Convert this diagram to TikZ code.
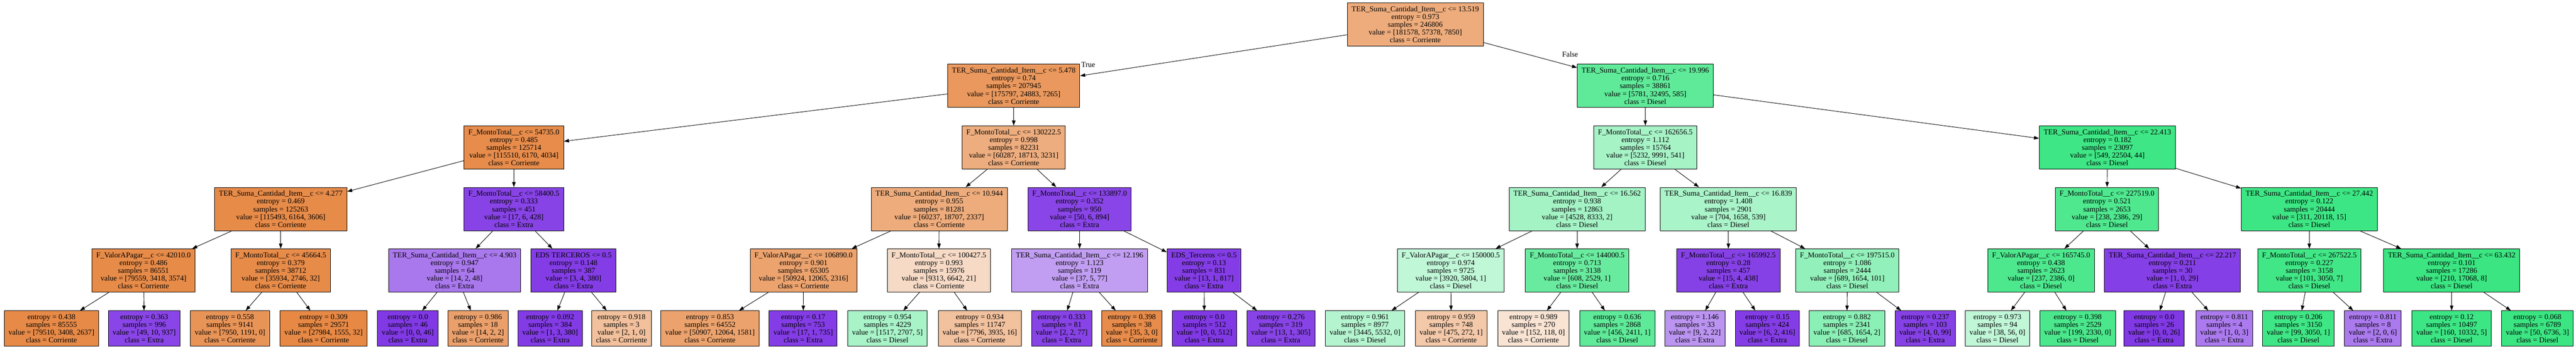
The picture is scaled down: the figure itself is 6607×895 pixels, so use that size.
\documentclass[tikz,border=0pt]{standalone}
\usepackage{fontspec}
\usetikzlibrary{arrows.meta}
\newfontfamily\treefam{Liberation Serif}
\newcommand\treefont{\treefam\fontsize{19.3}{20}\selectfont}
\definecolor{corr}{RGB}{229,129,57}
\definecolor{dies}{RGB}{57,229,129}
\definecolor{extra}{RGB}{129,57,229}
\begin{document}
\begin{tikzpicture}[x=1pt,y=-1pt,
  box/.style={draw=black, line width=1.3pt, inner xsep=11pt, inner ysep=0pt, align=center, font=\treefont},
  inode/.style={box, minimum height=111pt},
  leaf/.style={box, minimum height=91pt},
  edge/.style={line width=1.2pt, -{Triangle[length=13pt,width=9pt]}},
  lbl/.style={font=\treefont, inner sep=0pt}]
\fill[white] (0,0) rectangle (6607,895);
\useasboundingbox (0,0) rectangle (6607,895);
% level 0
\node[inode, fill=corr!66!white] (n0) at (3630,62.5) {TER\_Suma\_Cantidad\_Item\_\_c <= 13.519\\entropy = 0.973\\samples = 246806\\value = [181578, 57378, 7850]\\class = Corriente};
% level 1
\node[inode, fill=corr!82!white] (nL) at (2600,220.5) {TER\_Suma\_Cantidad\_Item\_\_c <= 5.478\\entropy = 0.74\\samples = 207945\\value = [175797, 24883, 7265]\\class = Corriente};
\node[inode, fill=dies!81!white] (nR) at (4220,220.5) {TER\_Suma\_Cantidad\_Item\_\_c <= 19.996\\entropy = 0.716\\samples = 38861\\value = [5781, 32495, 585]\\class = Diesel};
% level 2
\node[inode, fill=corr!91!white] (nLL) at (1318,378.5) {F\_MontoTotal\_\_c <= 54735.0\\entropy = 0.485\\samples = 125714\\value = [115510, 6170, 4034]\\class = Corriente};
\node[inode, fill=corr!65!white] (nLR) at (2600,378.5) {F\_MontoTotal\_\_c <= 130222.5\\entropy = 0.998\\samples = 82231\\value = [60287, 18713, 3231]\\class = Corriente};
\node[inode, fill=dies!45!white] (nRL) at (4220,378.5) {F\_MontoTotal\_\_c <= 162656.5\\entropy = 1.112\\samples = 15764\\value = [5232, 9991, 541]\\class = Diesel};
\node[inode, fill=dies!97!white] (nRR) at (5405,378.5) {TER\_Suma\_Cantidad\_Item\_\_c <= 22.413\\entropy = 0.182\\samples = 23097\\value = [549, 22504, 44]\\class = Diesel};
% level 3
\node[inode, fill=corr!92!white] (nLLL) at (720,536.5) {TER\_Suma\_Cantidad\_Item\_\_c <= 4.277\\entropy = 0.469\\samples = 125263\\value = [115493, 6164, 3606]\\class = Corriente};
\node[inode, fill=extra!95!white] (nLLR) at (1318,536.5) {F\_MontoTotal\_\_c <= 58400.5\\entropy = 0.333\\samples = 451\\value = [17, 6, 428]\\class = Extra};
\node[inode, fill=corr!66!white] (nLRL) at (2409,536.5) {TER\_Suma\_Cantidad\_Item\_\_c <= 10.944\\entropy = 0.955\\samples = 81281\\value = [60237, 18707, 2337]\\class = Corriente};
\node[inode, fill=extra!94!white] (nLRR) at (2769,536.5) {F\_MontoTotal\_\_c <= 133897.0\\entropy = 0.352\\samples = 950\\value = [50, 6, 894]\\class = Extra};
\node[inode, fill=dies!46!white] (nRLL) at (4045,536.5) {TER\_Suma\_Cantidad\_Item\_\_c <= 16.562\\entropy = 0.938\\samples = 12863\\value = [4528, 8333, 2]\\class = Diesel};
\node[inode, fill=dies!43!white] (nRLR) at (4433,536.5) {TER\_Suma\_Cantidad\_Item\_\_c <= 16.839\\entropy = 1.408\\samples = 2901\\value = [704, 1658, 539]\\class = Diesel};
\node[inode, fill=dies!89!white] (nRRL) at (5404,536.5) {F\_MontoTotal\_\_c <= 227519.0\\entropy = 0.521\\samples = 2653\\value = [238, 2386, 29]\\class = Diesel};
\node[inode, fill=dies!98!white] (nRRR) at (5923,536.5) {TER\_Suma\_Cantidad\_Item\_\_c <= 27.442\\entropy = 0.122\\samples = 20444\\value = [311, 20118, 15]\\class = Diesel};
% level 4
\node[inode, fill=corr!92!white] (nLLLL) at (368,694.5) {F\_ValorAPagar\_\_c <= 42010.0\\entropy = 0.486\\samples = 86551\\value = [79559, 3418, 3574]\\class = Corriente};
\node[inode, fill=corr!92!white] (nLLLR) at (720,694.5) {F\_MontoTotal\_\_c <= 45664.5\\entropy = 0.379\\samples = 38712\\value = [35934, 2746, 32]\\class = Corriente};
\node[inode, fill=extra!68!white] (nLLRL) at (1166,694.5) {TER\_Suma\_Cantidad\_Item\_\_c <= 4.903\\entropy = 0.947\\samples = 64\\value = [14, 2, 48]\\class = Extra};
\node[inode, fill=extra!98!white] (nLLRR) at (1471,694.5) {EDS TERCEROS <= 0.5\\entropy = 0.148\\samples = 387\\value = [3, 4, 380]\\class = Extra};
\node[inode, fill=corr!73!white] (nLRLL) at (2061,694.5) {F\_ValorAPagar\_\_c <= 106890.0\\entropy = 0.901\\samples = 65305\\value = [50924, 12065, 2316]\\class = Corriente};
\node[inode, fill=corr!29!white] (nLRLR) at (2408,694.5) {F\_MontoTotal\_\_c <= 100427.5\\entropy = 0.993\\samples = 15976\\value = [9313, 6642, 21]\\class = Corriente};
\node[inode, fill=extra!49!white] (nLRRL) at (2769,694.5) {TER\_Suma\_Cantidad\_Item\_\_c <= 12.196\\entropy = 1.123\\samples = 119\\value = [37, 5, 77]\\class = Extra};
\node[inode, fill=extra!98!white] (nLRRR) at (3088,694.5) {EDS\_Terceros <= 0.5\\entropy = 0.13\\samples = 831\\value = [13, 1, 817]\\class = Extra};
\node[inode, fill=dies!32!white] (nRLLL) at (3721,694.5) {F\_ValorAPagar\_\_c <= 150000.5\\entropy = 0.974\\samples = 9725\\value = [3920, 5804, 1]\\class = Diesel};
\node[inode, fill=dies!76!white] (nRLLR) at (4045,694.5) {F\_MontoTotal\_\_c <= 144000.5\\entropy = 0.713\\samples = 3138\\value = [608, 2529, 1]\\class = Diesel};
\node[inode, fill=extra!96!white] (nRLRL) at (4433,694.5) {F\_MontoTotal\_\_c <= 165992.5\\entropy = 0.28\\samples = 457\\value = [15, 4, 438]\\class = Extra};
\node[inode, fill=dies!55!white] (nRLRR) at (4738,694.5) {F\_MontoTotal\_\_c <= 197515.0\\entropy = 1.086\\samples = 2444\\value = [689, 1654, 101]\\class = Diesel};
\node[inode, fill=dies!90!white] (nRRLL) at (5235,694.5) {F\_ValorAPagar\_\_c <= 165745.0\\entropy = 0.438\\samples = 2623\\value = [237, 2386, 0]\\class = Diesel};
\node[inode, fill=extra!97!white] (nRRLR) at (5572,694.5) {TER\_Suma\_Cantidad\_Item\_\_c <= 22.217\\entropy = 0.211\\samples = 30\\value = [1, 0, 29]\\class = Extra};
\node[inode, fill=dies!96!white] (nRRRL) at (5923,694.5) {F\_MontoTotal\_\_c <= 267522.5\\entropy = 0.227\\samples = 3158\\value = [101, 3050, 7]\\class = Diesel};
\node[inode, fill=dies!99!white] (nRRRR) at (6288,694.5) {TER\_Suma\_Cantidad\_Item\_\_c <= 63.432\\entropy = 0.101\\samples = 17286\\value = [210, 17068, 8]\\class = Diesel};
% leaves
\node[leaf, fill=corr!93!white] (f1) at (132,843.5) {entropy = 0.438\\samples = 85555\\value = [79510, 3408, 2637]\\class = Corriente};
\node[leaf, fill=extra!94!white] (f2) at (370,843.5) {entropy = 0.363\\samples = 996\\value = [49, 10, 937]\\class = Extra};
\node[leaf, fill=corr!85!white] (f3) at (590,843.5) {entropy = 0.558\\samples = 9141\\value = [7950, 1191, 0]\\class = Corriente};
\node[leaf, fill=corr!94!white] (f4) at (830,843.5) {entropy = 0.309\\samples = 29571\\value = [27984, 1555, 32]\\class = Corriente};
\node[leaf, fill=extra] (f5) at (1046,843.5) {entropy = 0.0\\samples = 46\\value = [0, 0, 46]\\class = Extra};
\node[leaf, fill=corr!75!white] (f6) at (1226,843.5) {entropy = 0.986\\samples = 18\\value = [14, 2, 2]\\class = Corriente};
\node[leaf, fill=extra!99!white] (f7) at (1411,843.5) {entropy = 0.092\\samples = 384\\value = [1, 3, 380]\\class = Extra};
\node[leaf, fill=corr!50!white] (f8) at (1594,843.5) {entropy = 0.918\\samples = 3\\value = [2, 1, 0]\\class = Corriente};
\node[leaf, fill=corr!74!white] (f9) at (1821,843.5) {entropy = 0.853\\samples = 64552\\value = [50907, 12064, 1581]\\class = Corriente};
\node[leaf, fill=extra!98!white] (f10) at (2060,843.5) {entropy = 0.17\\samples = 753\\value = [17, 1, 735]\\class = Extra};
\node[leaf, fill=dies!44!white] (f11) at (2276,843.5) {entropy = 0.954\\samples = 4229\\value = [1517, 2707, 5]\\class = Diesel};
\node[leaf, fill=corr!49!white] (f12) at (2513,843.5) {entropy = 0.934\\samples = 11747\\value = [7796, 3935, 16]\\class = Corriente};
\node[leaf, fill=extra!95!white] (f13) at (2723,843.5) {entropy = 0.333\\samples = 81\\value = [2, 2, 77]\\class = Extra};
\node[leaf, fill=corr!91!white] (f14) at (2903,843.5) {entropy = 0.398\\samples = 38\\value = [35, 3, 0]\\class = Corriente};
\node[leaf, fill=extra] (f15) at (3089,843.5) {entropy = 0.0\\samples = 512\\value = [0, 0, 512]\\class = Extra};
\node[leaf, fill=extra!95!white] (f16) at (3285,843.5) {entropy = 0.276\\samples = 319\\value = [13, 1, 305]\\class = Extra};
\node[leaf, fill=dies!38!white] (f17) at (3501,843.5) {entropy = 0.961\\samples = 8977\\value = [3445, 5532, 0]\\class = Diesel};
\node[leaf, fill=corr!43!white] (f18) at (3722,843.5) {entropy = 0.959\\samples = 748\\value = [475, 272, 1]\\class = Corriente};
\node[leaf, fill=corr!22!white] (f19) at (3933,843.5) {entropy = 0.989\\samples = 270\\value = [152, 118, 0]\\class = Corriente};
\node[leaf, fill=dies!81!white] (f20) at (4148,843.5) {entropy = 0.636\\samples = 2868\\value = [456, 2411, 1]\\class = Diesel};
\node[leaf, fill=extra!54!white] (f21) at (4347,843.5) {entropy = 1.146\\samples = 33\\value = [9, 2, 22]\\class = Extra};
\node[leaf, fill=extra!98!white] (f22) at (4533,843.5) {entropy = 0.15\\samples = 424\\value = [6, 2, 416]\\class = Extra};
\node[leaf, fill=dies!59!white] (f23) at (4737,843.5) {entropy = 0.882\\samples = 2341\\value = [685, 1654, 2]\\class = Diesel};
\node[leaf, fill=extra!96!white] (f24) at (4938,843.5) {entropy = 0.237\\samples = 103\\value = [4, 0, 99]\\class = Extra};
\node[leaf, fill=dies!32!white] (f25) at (5123,843.5) {entropy = 0.973\\samples = 94\\value = [38, 56, 0]\\class = Diesel};
\node[leaf, fill=dies!91!white] (f26) at (5329,843.5) {entropy = 0.398\\samples = 2529\\value = [199, 2330, 0]\\class = Diesel};
\node[leaf, fill=extra] (f27) at (5525,843.5) {entropy = 0.0\\samples = 26\\value = [0, 0, 26]\\class = Extra};
\node[leaf, fill=extra!67!white] (f28) at (5705,843.5) {entropy = 0.811\\samples = 4\\value = [1, 0, 3]\\class = Extra};
\node[leaf, fill=dies!97!white] (f29) at (5895,843.5) {entropy = 0.206\\samples = 3150\\value = [99, 3050, 1]\\class = Diesel};
\node[leaf, fill=extra!67!white] (f30) at (6086,843.5) {entropy = 0.811\\samples = 8\\value = [2, 0, 6]\\class = Extra};
\node[leaf, fill=dies!98!white] (f31) at (6288,843.5) {entropy = 0.12\\samples = 10497\\value = [160, 10332, 5]\\class = Diesel};
\node[leaf, fill=dies!99!white] (f32) at (6508,843.5) {entropy = 0.068\\samples = 6789\\value = [50, 6736, 3]\\class = Diesel};
% labels
\node[lbl] (tTrue) at (2791,166) {True};
\node[lbl] (tFalse) at (4027,140) {False};
% edges
\draw[edge] (n0) -- (nL);
\draw[edge] (n0) -- (nR);
\draw[edge] (nL) -- (nLL);
\draw[edge] (nL) -- (nLR);
\draw[edge] (nR) -- (nRL);
\draw[edge] (nR) -- (nRR);
\draw[edge] (nLL) -- (nLLL);
\draw[edge] (nLL) -- (nLLR);
\draw[edge] (nLR) -- (nLRL);
\draw[edge] (nLR) -- (nLRR);
\draw[edge] (nRL) -- (nRLL);
\draw[edge] (nRL) -- (nRLR);
\draw[edge] (nRR) -- (nRRL);
\draw[edge] (nRR) -- (nRRR);
\draw[edge] (nLLL) -- (nLLLL);
\draw[edge] (nLLL) -- (nLLLR);
\draw[edge] (nLLR) -- (nLLRL);
\draw[edge] (nLLR) -- (nLLRR);
\draw[edge] (nLRL) -- (nLRLL);
\draw[edge] (nLRL) -- (nLRLR);
\draw[edge] (nLRR) -- (nLRRL);
\draw[edge] (nLRR) -- (nLRRR);
\draw[edge] (nRLL) -- (nRLLL);
\draw[edge] (nRLL) -- (nRLLR);
\draw[edge] (nRLR) -- (nRLRL);
\draw[edge] (nRLR) -- (nRLRR);
\draw[edge] (nRRL) -- (nRRLL);
\draw[edge] (nRRL) -- (nRRLR);
\draw[edge] (nRRR) -- (nRRRL);
\draw[edge] (nRRR) -- (nRRRR);
\draw[edge] (nLLLL) -- (f1);
\draw[edge] (nLLLL) -- (f2);
\draw[edge] (nLLLR) -- (f3);
\draw[edge] (nLLLR) -- (f4);
\draw[edge] (nLLRL) -- (f5);
\draw[edge] (nLLRL) -- (f6);
\draw[edge] (nLLRR) -- (f7);
\draw[edge] (nLLRR) -- (f8);
\draw[edge] (nLRLL) -- (f9);
\draw[edge] (nLRLL) -- (f10);
\draw[edge] (nLRLR) -- (f11);
\draw[edge] (nLRLR) -- (f12);
\draw[edge] (nLRRL) -- (f13);
\draw[edge] (nLRRL) -- (f14);
\draw[edge] (nLRRR) -- (f15);
\draw[edge] (nLRRR) -- (f16);
\draw[edge] (nRLLL) -- (f17);
\draw[edge] (nRLLL) -- (f18);
\draw[edge] (nRLLR) -- (f19);
\draw[edge] (nRLLR) -- (f20);
\draw[edge] (nRLRL) -- (f21);
\draw[edge] (nRLRL) -- (f22);
\draw[edge] (nRLRR) -- (f23);
\draw[edge] (nRLRR) -- (f24);
\draw[edge] (nRRLL) -- (f25);
\draw[edge] (nRRLL) -- (f26);
\draw[edge] (nRRLR) -- (f27);
\draw[edge] (nRRLR) -- (f28);
\draw[edge] (nRRRL) -- (f29);
\draw[edge] (nRRRL) -- (f30);
\draw[edge] (nRRRR) -- (f31);
\draw[edge] (nRRRR) -- (f32);
\end{tikzpicture}
\end{document}
